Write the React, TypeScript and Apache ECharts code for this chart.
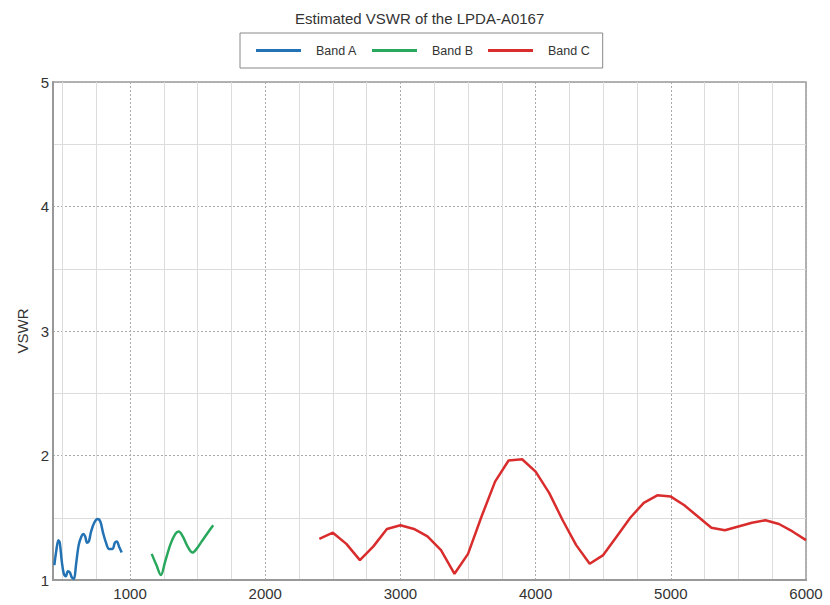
import React, { useEffect, useRef } from "react";
import * as echarts from "echarts";

const titleText = "Estimated VSWR of the LPDA-A0167";
const seriesNames = ["Band A", "Band B", "Band C"];
const seriesColors = ["#2272b4", "#29a85d", "#d92d2d"];

const bandAFreq = [440, 455, 470, 480, 495, 510, 525, 540, 555, 570, 585, 600, 620, 640, 655, 668, 682, 695, 712, 735, 760, 780, 800, 822, 845, 870, 888, 902, 918, 938];
const bandAVswr = [1.12, 1.24, 1.32, 1.30, 1.15, 1.05, 1.03, 1.07, 1.06, 1.02, 1.01, 1.12, 1.28, 1.35, 1.37, 1.35, 1.30, 1.31, 1.39, 1.46, 1.49, 1.47, 1.38, 1.30, 1.25, 1.25, 1.30, 1.31, 1.27, 1.22];

const bandBFreq = [1160, 1195, 1228, 1260, 1300, 1335, 1360, 1390, 1425, 1462, 1492, 1530, 1575, 1615];
const bandBVswr = [1.21, 1.12, 1.04, 1.15, 1.29, 1.37, 1.39, 1.35, 1.27, 1.22, 1.25, 1.31, 1.38, 1.44];

const bandCFreq = [2400, 2500, 2600, 2700, 2800, 2900, 3000, 3100, 3200, 3300, 3400, 3500, 3600, 3700, 3800, 3900, 4000, 4100, 4200, 4300, 4400, 4500, 4600, 4700, 4800, 4900, 5000, 5100, 5200, 5300, 5400, 5500, 5600, 5700, 5800, 5900, 6000];
const bandCVswr = [1.33, 1.38, 1.29, 1.16, 1.27, 1.41, 1.44, 1.41, 1.35, 1.24, 1.05, 1.21, 1.51, 1.79, 1.96, 1.97, 1.87, 1.70, 1.48, 1.28, 1.13, 1.20, 1.35, 1.50, 1.62, 1.68, 1.67, 1.60, 1.51, 1.42, 1.40, 1.43, 1.46, 1.48, 1.45, 1.39, 1.32];

const xMin = 430;
const xMax = 6000;
const yMin = 1;
const yMax = 5;
const yName = "VSWR";

const zip = (xs: number[], ys: number[]) => xs.map((x, i) => [x, ys[i]]);

export default function App() {
  const ref = useRef<HTMLDivElement>(null);
  useEffect(() => {
    if (!ref.current) return;
    const chart = echarts.init(ref.current, undefined, { renderer: "svg" });
    const font = "Liberation Sans, Arial, sans-serif";
    const datasets = [zip(bandAFreq, bandAVswr), zip(bandBFreq, bandBVswr), zip(bandCFreq, bandCVswr)];
    chart.setOption({
      animation: false,
      backgroundColor: "#ffffff",
      textStyle: { fontFamily: font },
      title: {
        text: titleText,
        left: 290,
        top: 6,
        textStyle: { fontSize: 15, fontWeight: "normal", color: "#333", fontFamily: font },
      },
      legend: {
        data: seriesNames,
        left: 240,
        top: 33,
        padding: [10, 13, 10, 16],
        itemWidth: 45,
        itemHeight: 3,
        itemGap: 15,
        borderColor: "#888",
        borderWidth: 1,
        icon: "rect",
        textStyle: { fontSize: 12.5, color: "#333", padding: [0, 0, 0, 10], lineHeight: 15, fontFamily: font },
      },
      grid: {
        left: 53,
        right: 24,
        top: 82,
        bottom: 25,
        show: true,
        borderColor: "#999",
        borderWidth: 1.5,
        backgroundColor: "transparent",
      },
      xAxis: {
        type: "value",
        min: xMin,
        max: xMax,
        axisLine: { show: true, lineStyle: { color: "#999", width: 2 } },
        axisTick: { show: false },
        axisLabel: {
          showMinLabel: false,
          color: "#333",
          fontSize: 15,
          margin: 6,
          fontFamily: font,
          formatter: (v: number) => String(v),
        },
        splitLine: { show: true, lineStyle: { color: "#aaa", type: [2, 2], width: 1 } },
        minorTick: { show: false, splitNumber: 4 },
        minorSplitLine: { show: true, lineStyle: { color: "#dcdcdc", width: 1 } },
      },
      yAxis: {
        type: "value",
        min: yMin,
        max: yMax,
        interval: 1,
        name: yName,
        nameLocation: "middle",
        nameGap: 20,
        nameTextStyle: { fontSize: 15, color: "#333", fontFamily: font },
        axisLine: { show: true, lineStyle: { color: "#999", width: 2 } },
        axisTick: { show: false },
        axisLabel: { color: "#333", fontSize: 15, margin: 4, fontFamily: font },
        splitLine: { show: true, lineStyle: { color: "#aaa", type: [2, 2], width: 1 } },
        minorTick: { show: false, splitNumber: 2 },
        minorSplitLine: { show: true, lineStyle: { color: "#dcdcdc", width: 1 } },
      },
      series: seriesNames.map((name, i) => ({
        name,
        type: "line",
        data: datasets[i],
        symbol: "none",
        smooth: i === 2 ? false : 0.35,
        color: seriesColors[i],
        lineStyle: { width: 2.5, color: seriesColors[i] },
      })),
    });
    return () => chart.dispose();
  }, []);
  return (
    <div
      ref={ref}
      style={{ position: "fixed", left: 0, top: 0, width: 830, height: 605 }}
    />
  );
}
